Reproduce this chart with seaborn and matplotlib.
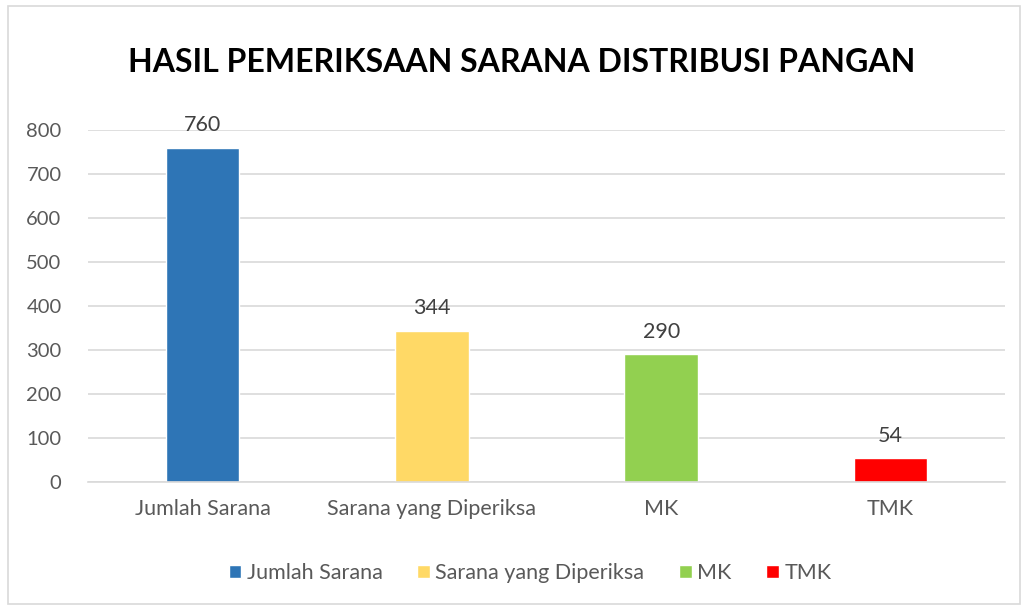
import matplotlib.pyplot as plt
import seaborn as sns
import pandas as pd
from matplotlib.patches import Rectangle

kategori = ['Jumlah Sarana', 'Sarana yang Diperiksa', 'MK', 'TMK']
nilai = [760, 344, 290, 54]
warna = ['#2E75B6', '#FFD966', '#92D050', '#FF0000']

df = pd.DataFrame({'kategori': kategori, 'nilai': nilai})

sns.set_style('white')
plt.rcParams['font.family'] = ['Lato', 'DejaVu Sans']

fig = plt.figure(figsize=(10.26, 6.07), dpi=100)
ax = fig.add_axes([88 / 1026, 1 - 482 / 607, (1005 - 88) / 1026, (482 - 130) / 607])

sns.barplot(data=df, x='kategori', y='nilai', hue='kategori', palette=warna,
            width=0.32, dodge=False, legend=True, saturation=1, ax=ax)

ax.set_ylim(0, 800)
ax.set_yticks(range(0, 801, 100))
ax.grid(axis='y', color='#d9d9d9', linewidth=1.2)
ax.set_axisbelow(True)
for s in ['top', 'right', 'left']:
    ax.spines[s].set_visible(False)
ax.spines['bottom'].set_color('#d9d9d9')
ax.spines['bottom'].set_linewidth(1.2)
ax.tick_params(axis='both', length=0, labelsize=15.5, colors='#595959')
ax.tick_params(axis='x', pad=12)
ax.tick_params(axis='y', labelsize=14.5, pad=19)
ax.set_xlabel('')
ax.set_ylabel('')

# label nilai di atas batang
for c in ax.containers:
    ax.bar_label(c, padding=9, fontsize=15.5, color='#404040')

leg = ax.legend(loc='center', bbox_to_anchor=((530 - 88) / (1005 - 88), (482 - 573) / (482 - 130)),
                ncol=4, frameon=False, fontsize=15.5, handlelength=0.6,
                handleheight=0.6, handletextpad=0.25, columnspacing=1.6,
                labelcolor='#595959')

fig.text(522 / 1026, 1 - 62 / 607, 'HASIL PEMERIKSAAN SARANA DISTRIBUSI PANGAN',
         ha='center', va='center', fontsize=23, fontweight='bold', color='black')

fig.patches.append(Rectangle((8 / 1026, 3 / 607), 1012 / 1026, 598 / 607,
                             transform=fig.transFigure, fill=False,
                             edgecolor='#d9d9d9', linewidth=1.2))

fig.savefig('out.png', dpi=100)
